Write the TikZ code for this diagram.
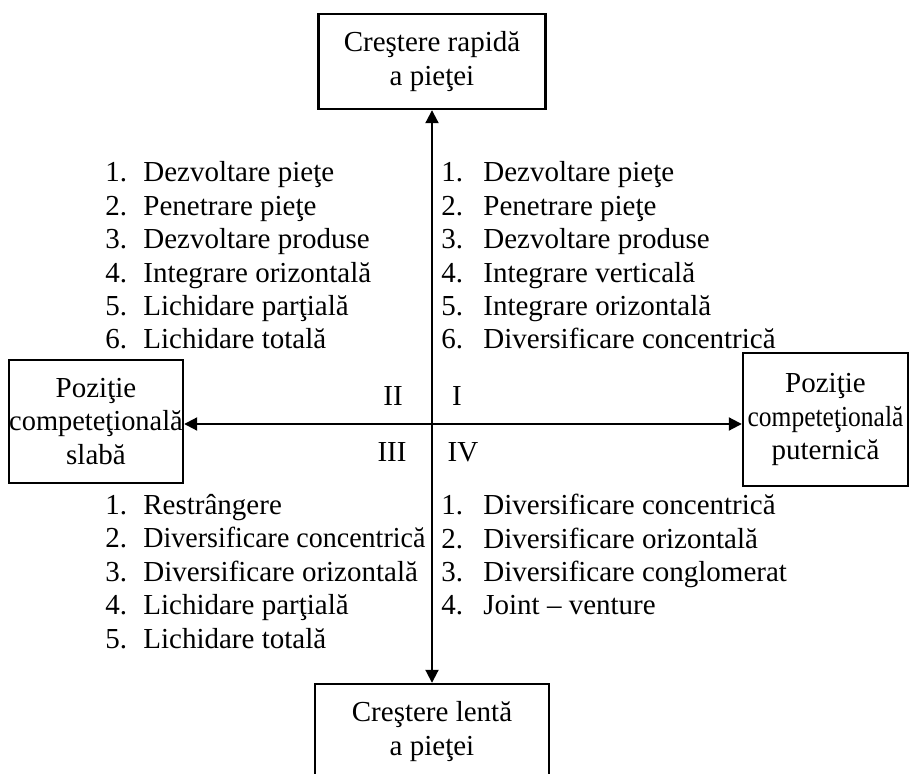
\documentclass[tikz,border=0pt]{standalone}
\usepackage{fontspec}
\setmainfont{Liberation Serif}
\usepackage{graphicx}
\usetikzlibrary{arrows.meta}
% numbered entry with a fixed-width number column
\newcommand{\nr}[2][19pt]{\makebox[#1][l]{#2.}}

\begin{document}
\begin{tikzpicture}[x=0.5pt, y=-0.5pt,
  font=\fontsize{14.5}{16.7}\selectfont,
  box/.style={draw, line width=1.2pt, align=center, inner sep=0pt},
  lista/.style={align=left, inner sep=0pt, anchor=base west},
  cadran/.style={inner sep=0pt, anchor=base},
  axa/.style={line width=1pt, {Triangle[length=6.5pt,width=6.5pt]}-{Triangle[length=6.5pt,width=6.5pt]}}]
\clip (0,0) rectangle (910,774);
\coordinate (o) at (432,424);

% the four boxes
\node[box, minimum width=113.5pt, minimum height=47.5pt] (rapida) at (432,61.5) {Creştere rapidă\\ a pieţei};
\node[box, minimum width=117pt, minimum height=47.5pt] (lenta) at (432,731.5) {Creştere lentă\\ a pieţei};
\node[box, minimum width=87pt, minimum height=61.5pt] (slaba) at (96,421.5) {Poziţie\\ \scalebox{0.98}[1]{competeţională}\\ slabă};
\node[box, minimum width=82.5pt, minimum height=66.5pt] (puternica) at (825.5,419.5)
  {\raisebox{5pt}{\begin{tabular}{@{}c@{}}Poziţie\\ \scalebox{0.88}[1]{competeţională}\\ puternică\end{tabular}}};

% axes
\draw[axa] (rapida) -- (lenta);
\draw[axa] (slaba.east |- o) -- (puternica.west |- o);

% quadrant numbers
\node[cadran] (nrI) at (457,406) {I};
\node[cadran] (nrII) at (393,406) {II};
\node[cadran] (nrIII) at (392,462) {III};
\node[cadran] (nrIV) at (463,462) {IV};

% strategies per quadrant (base = last line)
\node[lista] (stratII) at (105,349) {\nr{1}Dezvoltare pieţe\\ \nr{2}Penetrare pieţe\\ \nr{3}Dezvoltare produse\\ \nr{4}Integrare orizontală\\ \nr{5}Lichidare parţială\\ \nr{6}Lichidare totală};
\node[lista] (stratI) at (441,349) {\nr[21pt]{1}Dezvoltare pieţe\\ \nr[21pt]{2}Penetrare pieţe\\ \nr[21pt]{3}Dezvoltare produse\\ \nr[21pt]{4}Integrare verticală\\ \nr[21pt]{5}Integrare orizontală\\ \nr[21pt]{6}Diversificare concentrică};
\node[lista] (stratIII) at (105,648) {\nr{1}Restrângere\\ \nr{2}\scalebox{0.965}[1]{Diversificare concentrică}\\ \nr{3}Diversificare orizontală\\ \nr{4}Lichidare parţială\\ \nr{5}Lichidare totală};
\node[lista] (stratIV) at (441,615) {\nr[21pt]{1}Diversificare concentrică\\ \nr[21pt]{2}Diversificare orizontală\\ \nr[21pt]{3}Diversificare conglomerat\\ \nr[21pt]{4}Joint -- venture};
\end{tikzpicture}
\end{document}
